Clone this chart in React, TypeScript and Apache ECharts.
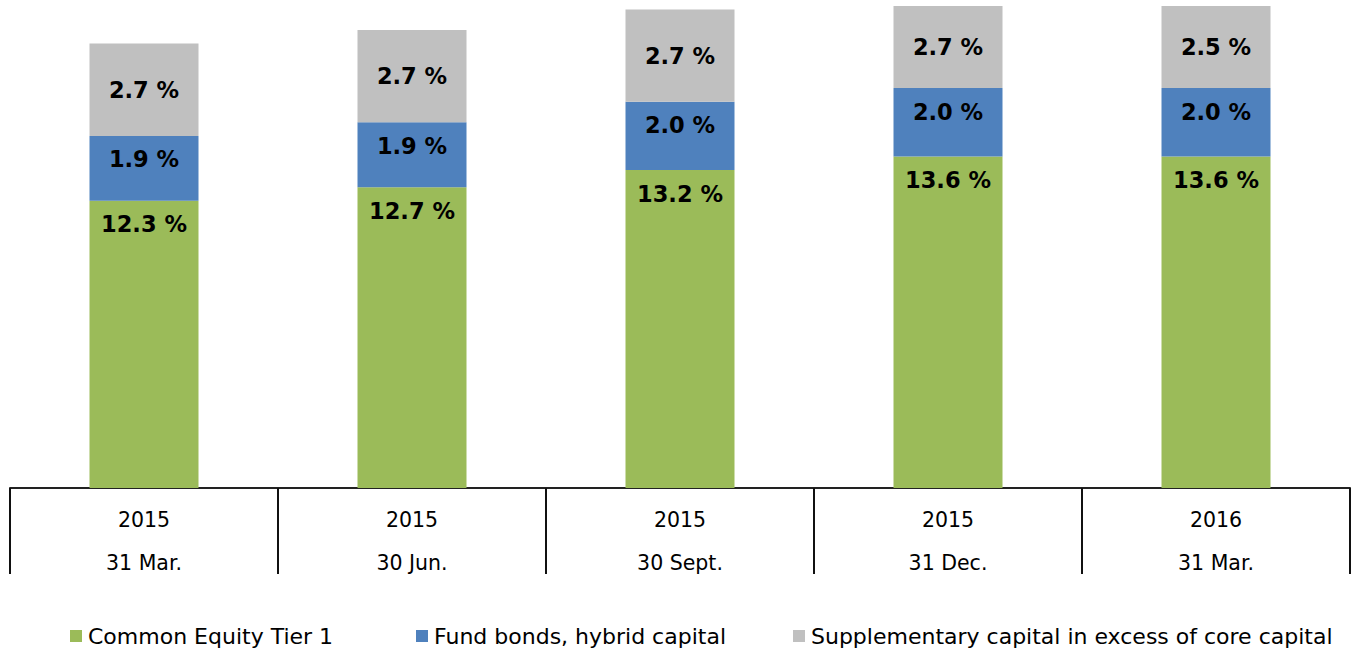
import React, { useEffect, useRef } from "react";
import * as echarts from "echarts";

const years = ["2015", "2015", "2015", "2015", "2016"];
const dates = ["31 Mar.", "30 Jun.", "30 Sept.", "31 Dec.", "31 Mar."];
const seriesNames = [
  "Common Equity Tier 1",
  "Fund bonds, hybrid capital",
  "Supplementary capital in excess of core capital",
];
const cet1 = [12.3, 12.7, 13.2, 13.6, 13.6];
const fundBonds = [1.9, 1.9, 2.0, 2.0, 2.0];
const supplementary = [2.7, 2.7, 2.7, 2.7, 2.5];
const colors = ["#9BBB59", "#4F81BD", "#C0C0C0"];

const FONT = "DejaVu Sans, Verdana, sans-serif";

export default function App() {
  const ref = useRef<HTMLDivElement>(null);
  useEffect(() => {
    document.body.style.margin = "0";
    if (!ref.current) return;
    const chart = echarts.init(ref.current, undefined, { renderer: "svg" });
    const labelBase = {
      show: true,
      color: "#000",
      fontWeight: "bold" as const,
      fontSize: 22.5,
      fontFamily: FONT,
      formatter: (p: any) => `${Number(p.value).toFixed(1)} %`,
    };
    const datasets = [cet1, fundBonds, supplementary];
    const legendLefts = [70, 416, 793];
    chart.setOption({
      animation: false,
      grid: { left: 10, right: 3, top: 6, bottom: 166, containLabel: false },
      xAxis: {
        type: "category",
        data: years.map((y, i) => `${y}\n${dates[i]}`),
        axisLine: { show: true, lineStyle: { color: "#222", width: 2 } },
        axisTick: { show: true, length: 86, lineStyle: { color: "#111", width: 2 } },
        axisLabel: {
          color: "#000",
          fontSize: 20.5,
          fontFamily: FONT,
          lineHeight: 43,
          margin: 10,
        },
      },
      yAxis: {
        type: "value",
        show: false,
        min: 3.9,
        max: 18.0,
        splitLine: { show: false },
      },
      legend: seriesNames.map((n, i) => ({
        data: [n],
        left: legendLefts[i],
        top: 625,
        padding: 0,
        itemWidth: 12,
        itemHeight: 12,
        itemGap: 6,
        icon: "rect",
        textStyle: { fontSize: 22, fontFamily: FONT, color: "#000", padding: [0, 0, 0, 1] },
      })),
      series: seriesNames.map((n, i) => ({
        name: n,
        type: "bar",
        stack: "total",
        barWidth: 109,
        data: datasets[i],
        itemStyle: { color: colors[i] },
        label:
          i === 2
            ? { ...labelBase, position: "inside" }
            : { ...labelBase, position: "insideTop", distance: 12 },
      })),
    });
    return () => chart.dispose();
  }, []);
  return <div ref={ref} style={{ width: 1353, height: 654 }} />;
}
